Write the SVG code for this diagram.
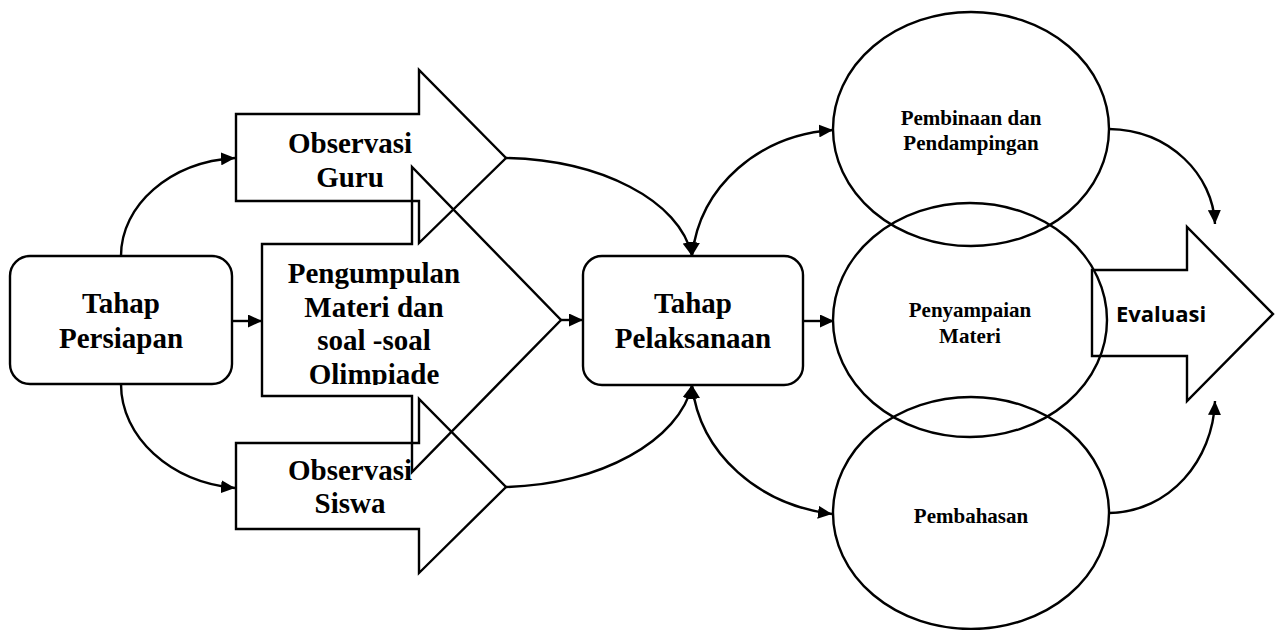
<svg xmlns="http://www.w3.org/2000/svg" width="1281" height="630" viewBox="0 0 1281 630">
<style>
.shape{fill:none;stroke:#000;stroke-width:2.4}
.conn{fill:none;stroke:#000;stroke-width:2.4}
.t{font-family:"Liberation Serif","Times New Roman",serif;font-weight:bold;font-size:29px;text-anchor:middle;fill:#000}
.s{font-family:"Liberation Serif","Times New Roman",serif;font-weight:bold;font-size:21px;text-anchor:middle;fill:#000}
.e{font-family:"Open Sans","Liberation Sans",sans-serif;font-weight:bold;font-size:22px;text-anchor:middle;fill:#000}
</style>
<defs>
<marker id="ah" markerUnits="userSpaceOnUse" markerWidth="15" markerHeight="13" refX="14" refY="6.5" orient="auto-start-reverse">
<path d="M0,0 L14,6.5 L0,13 z" fill="#000"/>
</marker>
<clipPath id="clipP"><rect x="262" y="244" width="300" height="141"/></clipPath>
</defs>
<rect width="1281" height="630" fill="#fff"/>

<g id="tahap-persiapan">
<rect class="shape" x="10" y="256" width="222" height="128" rx="20" ry="20"/>
<text class="t" x="121" y="313">Tahap</text>
<text class="t" x="121" y="348">Persiapan</text>
</g>

<g id="observasi-guru">
<polygon class="shape" points="236,114 419,114 419,70 506,158 419,243 419,201 236,201"/>
<text class="t" x="350" y="153">Observasi</text>
<text class="t" x="350" y="187">Guru</text>
</g>

<g id="pengumpulan">
<polygon class="shape" points="262,244 412,244 412,167 561,320 412,472 412,396 262,396"/>
<g clip-path="url(#clipP)">
<text class="t" x="374" y="283">Pengumpulan</text>
<text class="t" x="374" y="317">Materi dan</text>
<text class="t" x="374" y="350">soal -soal</text>
<text class="t" x="374" y="384">Olimpiade</text>
</g>
</g>

<g id="observasi-siswa">
<polygon class="shape" points="236,443 419,443 419,399 506,487 419,573 419,529 236,529"/>
<text class="t" x="350" y="480">Observasi</text>
<text class="t" x="350" y="513">Siswa</text>
</g>

<g id="tahap-pelaksanaan">
<rect class="shape" x="583" y="256" width="220" height="129" rx="19" ry="19"/>
<text class="t" x="693" y="313">Tahap</text>
<text class="t" x="693" y="348">Pelaksanaan</text>
</g>

<g id="pembinaan">
<ellipse class="shape" cx="971" cy="129" rx="138" ry="117"/>
<text class="s" x="971" y="125">Pembinaan dan</text>
<text class="s" x="971" y="150">Pendampingan</text>
</g>

<g id="penyampaian">
<ellipse class="shape" cx="970" cy="320" rx="137" ry="117"/>
<text class="s" x="970" y="317">Penyampaian</text>
<text class="s" x="970" y="343">Materi</text>
</g>

<g id="pembahasan">
<ellipse class="shape" cx="971" cy="513" rx="138" ry="116"/>
<text class="s" x="971" y="523">Pembahasan</text>
</g>

<g id="evaluasi">
<polygon class="shape" points="1092,270 1187,270 1187,227 1273,314 1187,401 1187,356 1092,356"/>
<text class="e" x="1161" y="322">Evaluasi</text>
</g>

<g id="connectors">
<path class="conn" d="M121,256 C121,205 170,162 235,158" marker-end="url(#ah)"/>
<path class="conn" d="M121,384 C121,437 170,482 235,488" marker-end="url(#ah)"/>
<path class="conn" d="M232,321 L262,321" marker-end="url(#ah)"/>
<path class="conn" d="M561,320 L583,320" marker-end="url(#ah)"/>
<path class="conn" d="M506,158 C600,160 680,200 692,256" marker-end="url(#ah)"/>
<path class="conn" d="M506,487 C600,485 680,440 692,385" marker-end="url(#ah)"/>
<path class="conn" d="M803,321 L834,321" marker-end="url(#ah)"/>
<path class="conn" d="M692,256 C700,185 760,135 833,130" marker-start="url(#ah)" marker-end="url(#ah)"/>
<path class="conn" d="M692,385 C700,455 760,505 832,514" marker-start="url(#ah)" marker-end="url(#ah)"/>
<path class="conn" d="M1109,129 C1170,130 1213,175 1215,224" marker-end="url(#ah)"/>
<path class="conn" d="M1109,513 C1170,512 1213,460 1215,401" marker-end="url(#ah)"/>
</g>
</svg>
